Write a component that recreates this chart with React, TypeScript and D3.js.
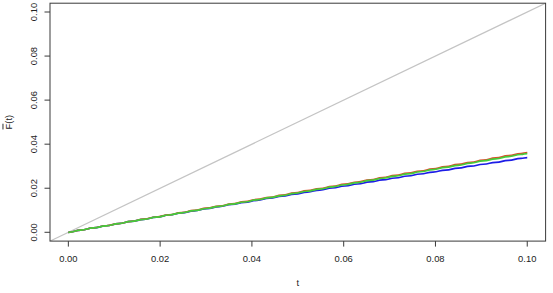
import React from "react";
import * as d3 from "d3";

const tValues = [
  0, 0.00274, 0.00548, 0.00822, 0.01096, 0.0137, 0.01644, 0.01918, 0.02192, 0.02466,
  0.0274, 0.03014, 0.03288, 0.03562, 0.03836, 0.0411, 0.04384, 0.04658, 0.04932, 0.05206,
  0.0548, 0.05753, 0.06027, 0.06301, 0.06575, 0.06849, 0.07123, 0.07397, 0.07671, 0.07945,
  0.08219, 0.08493, 0.08767, 0.09041, 0.09315, 0.09589, 0.09863, 0.1,
];
const redValues = [
  0, 0.00099, 0.00199, 0.00298, 0.00397, 0.00497, 0.00596, 0.00695, 0.00795, 0.00894,
  0.00993, 0.01093, 0.01192, 0.01291, 0.01391, 0.0149, 0.01589, 0.01689, 0.01788, 0.01887,
  0.01987, 0.02086, 0.02185, 0.02284, 0.02384, 0.02483, 0.02582, 0.02682, 0.02781, 0.0288,
  0.0298, 0.03079, 0.03178, 0.03277, 0.03377, 0.03476, 0.03575, 0.0362,
];
const greenValues = [
  0, 0.00098, 0.00197, 0.00294, 0.00392, 0.00491, 0.00589, 0.00687, 0.00785, 0.00883,
  0.00981, 0.0108, 0.01178, 0.01276, 0.01374, 0.01472, 0.0157, 0.01669, 0.01767, 0.01864,
  0.01963, 0.02061, 0.02159, 0.02257, 0.02355, 0.02453, 0.02551, 0.0265, 0.02748, 0.02845,
  0.02944, 0.03042, 0.0314, 0.03238, 0.03336, 0.03434, 0.03532, 0.03575,
];
const blueValues = [
  0, 0.00099, 0.00198, 0.00296, 0.00394, 0.00493, 0.0059, 0.00687, 0.00784, 0.0088,
  0.00976, 0.01072, 0.01167, 0.01262, 0.01357, 0.01451, 0.01545, 0.01639, 0.01732, 0.01825,
  0.01918, 0.0201, 0.02102, 0.02193, 0.02285, 0.02375, 0.02465, 0.02556, 0.02646, 0.02735,
  0.02825, 0.02913, 0.03001, 0.03089, 0.03177, 0.03265, 0.03351, 0.0339,
];
const xTicks = [0, 0.02, 0.04, 0.06, 0.08, 0.1];
const yTicks = [0, 0.02, 0.04, 0.06, 0.08, 0.1];
const diagonal = [-0.004, 0.104];

const W = 553;
const H = 293;
const left = 50;
const right = 545.6;
const top = 3.2;
const bottom = 241.1;

export default function App() {
  const x = d3.scaleLinear().domain([-0.004, 0.104]).range([left, right]);
  const y = d3.scaleLinear().domain([-0.004, 0.104]).range([bottom, top]);
  const line = d3
    .line<number>()
    .x((_, i) => x(tValues[i]))
    .y((d) => y(d))
    .curve(d3.curveBumpX);
  const series = [
    { vals: blueValues, color: "#1c1ce6" },
    { vals: redValues, color: "#d8502c" },
    { vals: greenValues, color: "#44cc3a" },
  ];
  const font = "'Liberation Sans', Arial, Helvetica, sans-serif";
  return (
    <svg
      width={W}
      height={H}
      style={{ position: "fixed", left: 0, top: 0, background: "#fff" }}
      fontFamily={font}
    >
      <rect x={0} y={0} width={W} height={H} fill="#fff" />
      <defs>
        <clipPath id="plotclip">
          <rect x={left} y={top} width={right - left} height={bottom - top} />
        </clipPath>
      </defs>
      <g clipPath="url(#plotclip)">
        <line
          x1={x(diagonal[0])}
          y1={y(diagonal[0])}
          x2={x(diagonal[1])}
          y2={y(diagonal[1])}
          stroke="#c4c4c4"
          strokeWidth={1.2}
        />
        {series.map((s, i) => (
          <path key={i} d={line(s.vals) || ""} fill="none" stroke={s.color} strokeWidth={1.7} />
        ))}
      </g>
      <rect
        x={left}
        y={top}
        width={right - left}
        height={bottom - top}
        fill="none"
        stroke="#3a3a3a"
        strokeWidth={1}
      />
      {xTicks.map((t) => (
        <g key={"x" + t}>
          <line x1={x(t)} x2={x(t)} y1={bottom} y2={bottom + 5.5} stroke="#3a3a3a" />
          <text x={x(t)} y={261.5} fontSize={9.4} textAnchor="middle" fill="#222">
            {t.toFixed(2)}
          </text>
        </g>
      ))}
      {yTicks.map((t) => (
        <g key={"y" + t}>
          <line x1={left} x2={left - 5.5} y1={y(t)} y2={y(t)} stroke="#3a3a3a" />
          <text
            transform={`translate(36.5,${y(t)}) rotate(-90)`}
            fontSize={9.4}
            textAnchor="middle"
            fill="#222"
          >
            {t.toFixed(2)}
          </text>
        </g>
      ))}
      <text x={(left + right) / 2} y={285.5} fontSize={9.4} textAnchor="middle" fill="#222">
        t
      </text>
      <text
        transform={`translate(11.5,${(top + bottom) / 2}) rotate(-90)`}
        fontSize={9.4}
        textAnchor="middle"
        fill="#222"
      >
        <tspan style={{ textDecoration: "overline" }}>F</tspan>
        <tspan>(t)</tspan>
      </text>
    </svg>
  );
}
